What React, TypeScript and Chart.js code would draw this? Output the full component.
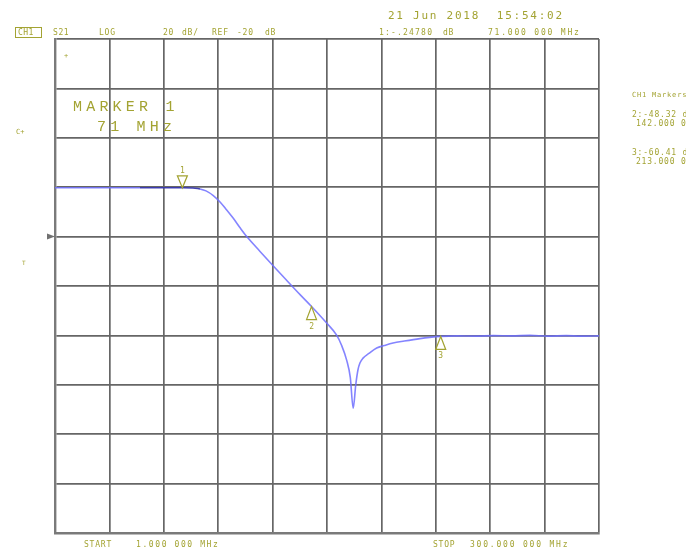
import { useEffect, useRef } from 'react';
import { Chart, registerables } from 'chart.js';

Chart.register(...registerables);

// ---- data ----
const freqMHz = [
  1, 20, 47.7, 60, 71, 78, 80.7, 84, 88, 91.7, 95, 99, 102.5, 106.4, 113.7, 121,
  128.3, 135.7, 142, 150.3, 155.8, 158.5, 161.3, 163.3, 164.9,
  166.3, 167.5, 168.6, 170.3, 173.5, 177.8, 182, 186.8, 193, 201.6, 207, 213, 222, 232, 242,
  252, 262, 272, 282, 290, 300,
];
const s21dB = [
  -0.25, -0.25, -0.25, -0.24, -0.25, -0.4, -0.7, -1.5, -3.4, -6.0, -8.9, -12.6, -16.2, -20.0,
  -26.0, -31.9, -37.7, -43.5, -48.3, -55.0, -59.9, -64, -70, -77, -89.5,
  -80, -74, -71.2, -69.2, -67.3, -65.1, -64.1, -63.1, -62.3,
  -61.3, -60.8, -60.4, -60.2, -60.3, -60.1, -60.2, -60.0, -60.3, -60.1, -60.3, -60.2,
];
const markerNames = ['1', '2', '3'];
const markerFreqs = [71, 142, 213];
const markerValues = [-0.25, -48.32, -60.41];
const xGridMHz = [1, 30.9, 60.8, 90.7, 120.6, 150.5, 180.4, 210.3, 240.2, 270.1, 300];
const yMinDB = -140;
const yMaxDB = 60;
const yStepDB = 20;
const refLevelDB = -20;

const startLabel = '1.000 000 MHz';
const stopLabel = '300.000 000 MHz';

const OLIVE = '#a3a332';
const MONO = '"DejaVu Sans Mono", "Liberation Mono", monospace';
const THIN = '"Liberation Mono", "DejaVu Sans Mono", monospace';

function txt(ctx: CanvasRenderingContext2D, s: string, x: number, y: number, size: number, spacing: number, font = MONO) {
  ctx.font = `${size}px ${font}`;
  (ctx as any).letterSpacing = `${spacing}px`;
  ctx.fillText(s, x, y);
}

const annotPlugin = {
  id: 'annot',
  afterDatasetsDraw(chart: any) {
    const ctx: CanvasRenderingContext2D = chart.ctx;
    const xs = chart.scales.x;
    const ys = chart.scales.y;
    ctx.save();
    ctx.strokeStyle = OLIVE;
    ctx.fillStyle = OLIVE;
    ctx.lineWidth = 1.2;
    ctx.textAlign = 'center';
    ctx.textBaseline = 'middle';
    markerFreqs.forEach((f, i) => {
      const x = xs.getPixelForValue(f);
      const y = ys.getPixelForValue(markerValues[i]);
      ctx.beginPath();
      if (i === 0) {
        ctx.moveTo(x, y);
        ctx.lineTo(x - 5, y - 12);
        ctx.lineTo(x + 5, y - 12);
        ctx.closePath();
        ctx.stroke();
        txt(ctx, markerNames[i], x, y - 17, 8, 0);
      } else {
        ctx.moveTo(x, y);
        ctx.lineTo(x - 5, y + 13);
        ctx.lineTo(x + 5, y + 13);
        ctx.closePath();
        ctx.stroke();
        txt(ctx, markerNames[i], x, y + 20, 8, 0);
      }
    });
    ctx.restore();
  },
  afterDraw(chart: any) {
    const ctx: CanvasRenderingContext2D = chart.ctx;
    const ys = chart.scales.y;
    const area = chart.chartArea;
    ctx.save();
    ctx.fillStyle = OLIVE;
    ctx.strokeStyle = OLIVE;
    ctx.textBaseline = 'middle';
    ctx.textAlign = 'left';

    // header
    ctx.lineWidth = 1;
    ctx.strokeRect(15.5, 27.5, 26, 10);
    txt(ctx, 'CH1', 18, 33, 8, 0.4);
    txt(ctx, 'S21', 53, 33, 8, 0.6);
    txt(ctx, 'LOG', 99, 33, 8, 0.8);
    txt(ctx, '20', 163, 33, 8, 0.8);
    txt(ctx, 'dB/', 182, 33, 8, 0.8);
    txt(ctx, 'REF', 212, 33, 8, 0.8);
    txt(ctx, '-20', 237, 33, 8, 0.8);
    txt(ctx, 'dB', 265, 33, 8, 0.8);
    txt(ctx, '21 Jun 2018  15:54:02', 388, 16, 11, 1.75);
    txt(ctx, '1:-.24780', 379, 33, 8, 1.2);
    txt(ctx, 'dB', 443, 33, 8, 0.8);
    txt(ctx, '71.000 000 MHz', 488, 33, 8, 1.8);

    // marker readout in grid
    txt(ctx, 'MARKER 1', 73, 107, 15, 4.2, THIN);
    txt(ctx, '71 MHz', 97, 127, 15, 4.2, THIN);
    txt(ctx, '+', 64, 56, 7, 0);
    txt(ctx, 'C+', 16, 132, 7, 0);
    txt(ctx, 'T', 22, 263, 6, 0);

    // right panel
    txt(ctx, 'CH1 Markers', 632, 95, 7, 0.8);
    txt(ctx, '2:-48.32 dB', 632, 115, 8, 0.8);
    txt(ctx, '142.000 0 MHz', 636, 124, 8, 0.8);
    txt(ctx, '3:-60.41 dB', 632, 153, 8, 0.8);
    txt(ctx, '213.000 0 MHz', 636, 162, 8, 0.8);

    // bottom
    txt(ctx, 'START', 84, 545, 8, 0.8);
    txt(ctx, startLabel, 136, 545, 8, 1.6);
    txt(ctx, 'STOP', 433, 545, 8, 0.8);
    txt(ctx, stopLabel, 470, 545, 8, 1.8);

    // reference position marker
    const yr = ys.getPixelForValue(refLevelDB);
    ctx.fillStyle = '#707070';
    ctx.beginPath();
    ctx.moveTo(area.left - 8, yr - 3);
    ctx.lineTo(area.left, yr);
    ctx.lineTo(area.left - 8, yr + 3);
    ctx.closePath();
    ctx.fill();
    ctx.restore();
  },
};

export default function App() {
  const ref = useRef<HTMLCanvasElement | null>(null);
  useEffect(() => {
    if (!ref.current) return;
    const chart = new Chart(ref.current, {
      type: 'line',
      data: {
        datasets: [
          {
            data: freqMHz.map((f, i) => ({ x: f, y: s21dB[i] })),
            borderColor: 'rgba(110,110,255,0.85)',
            borderWidth: 1.6,
            pointRadius: 0,
            cubicInterpolationMode: 'monotone',
            segment: {
              borderColor: (c: any) =>
                c.p0.parsed.x >= 47.7 && c.p1.parsed.x <= 80.7 ? 'rgba(55,55,175,0.95)' : undefined,
            },
          },
        ],
      },
      options: {
        animation: false,
        responsive: false,
        devicePixelRatio: 1,
        layout: { padding: { left: 55, right: 87, top: 39, bottom: 17 } },
        plugins: { legend: { display: false }, tooltip: { enabled: false } },
        scales: {
          x: {
            type: 'linear',
            min: xGridMHz[0],
            max: xGridMHz[xGridMHz.length - 1],
            afterBuildTicks: (s: any) => {
              s.ticks = xGridMHz.map((v) => ({ value: v }));
            },
            ticks: { display: false },
            grid: { color: '#666666', lineWidth: 1.7, drawTicks: false },
            border: { display: true, color: '#7a7a7a', width: 2.4 },
          },
          y: {
            type: 'linear',
            min: yMinDB,
            max: yMaxDB,
            ticks: { display: false, stepSize: yStepDB },
            grid: { color: '#666666', lineWidth: 1.7, drawTicks: false },
            border: { display: true, color: '#7a7a7a', width: 2.4 },
          },
        },
      },
      plugins: [annotPlugin],
    } as any);
    return () => chart.destroy();
  }, []);
  return (
    <div style={{ position: 'absolute', left: 0, top: 0, width: 686, height: 550, background: '#fff' }}>
      <canvas ref={ref} width={686} height={550} />
    </div>
  );
}
